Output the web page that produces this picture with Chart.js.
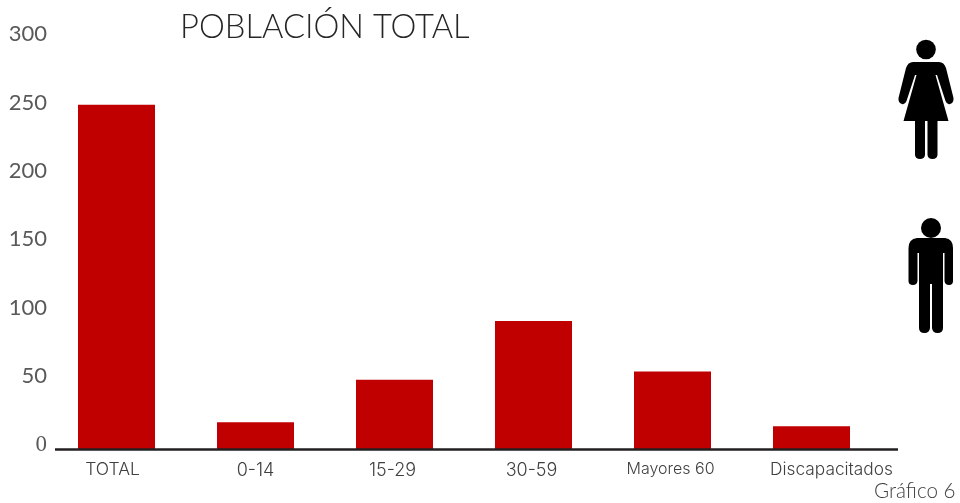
<!DOCTYPE html>
<html>
<head>
<meta charset="utf-8">
<style>
  html, body { margin: 0; padding: 0; background: #fff; }
  #wrap { position: relative; width: 960px; height: 503px; overflow: hidden; }
  #icons { position: absolute; left: 0; top: 0; }
</style>
</head>
<body>
<div id="wrap">
  <canvas id="canvas" width="960" height="503"></canvas>
  <svg id="icons" width="960" height="503" viewBox="0 0 960 503">
    <!-- woman -->
    <circle cx="926" cy="49.5" r="9.8" fill="#000"/>
    <path fill="#000" d="M913 62 H939 Q944 62 946 68 L953.5 98 Q954 103 950 104 Q947 105 945.5 101 L937 75 L935.5 75 L948.5 121 H937.5 V155 Q937 159 932.5 159 Q928 159 927.5 155 V121 H925 V155 Q924.5 159 920 159 Q915.5 159 915 155 V121 H903.5 L916.5 75 L915 75 L906.5 101 Q905 105 902 104 Q898 103 898.5 98 L906 68 Q908 62 913 62 Z"/>
    <!-- man -->
    <circle cx="931" cy="228" r="10" fill="#000"/>
    <path fill="#000" d="M917 238 H945 Q953 239 953 248 V281 Q953 285 949 285 Q945 285 944.5 281 V253 H943 V328 Q943 333 937.5 333 Q932.5 333 932 328 V284 H930 V328 Q929.5 333 924.5 333 Q919 333 919 328 V253 H917.5 V281 Q917 285 913 285 Q908.5 285 908.5 281 V248 Q908.5 239 917 238 Z"/>
  </svg>
</div>
<script src="https://cdn.jsdelivr.net/npm/chart.js@4"></script>
<script>
const categories = ['TOTAL', '0-14', '15-29', '30-59', 'Mayores 60', 'Discapacitados']
const poblacion = [252, 20, 51, 94, 57, 17]
const yTicks = [0, 50, 100, 150, 200, 250, 300]
const titleText = 'POBLACIÓN TOTAL'
const noteText = 'Gráfico 6'

const labelFont = 'Lato'
const xFont = 'Inter'
const xSizes = [17.5, 18, 18, 18, 16, 17.3]
const labelShift = [-4, 0, -2, -2, -2, 20]

// texts and the long base line do not fit the plot box, so they go in a small plugin
const extras = {
  id: 'extras',
  afterLayout(chart) {
    chart.scales.x.getLabelItems().forEach((item, i) => {
      item.options.translation[0] += labelShift[i]
    })
  },
  afterDatasetsDraw(chart) {
    const ctx = chart.ctx
    const base = chart.scales.y.getPixelForValue(0)
    ctx.save()
    ctx.strokeStyle = '#231f20'
    ctx.lineWidth = 2.5
    ctx.beginPath()
    ctx.moveTo(55, base)
    ctx.lineTo(898, base)
    ctx.stroke()

    ctx.textBaseline = 'middle'
    ctx.fillStyle = '#262626'
    ctx.font = '300 32.7px ' + labelFont
    ctx.fillText(titleText, 180, 27)
    ctx.fillStyle = '#404040'
    ctx.font = '300 20.6px ' + labelFont
    ctx.fillText(noteText, 874, 491)
    ctx.restore()
  },
}

const data = {
  labels: categories,
  datasets: [
    {
      label: 'Población',
      backgroundColor: '#c00000',
      data: poblacion,
      categoryPercentage: 1,
      barPercentage: 0.554,
    },
  ],
}

const config = {
  type: 'bar',
  data: data,
  plugins: [extras],
  options: {
    responsive: false,
    animation: false,
    layout: { padding: { top: 39, right: 79, left: 0, bottom: 0 } },
    plugins: { legend: { display: false }, title: { display: false }, tooltip: { enabled: false } },
    scales: {
      x: {
        afterFit: (scale) => { scale.height = 53.5 },
        grid: { display: false, drawTicks: false },
        border: { display: false },
        ticks: {
          maxRotation: 0,
          autoSkip: false,
          padding: 10,
          color: '#404040',
          font: (ctx) => ({ family: xFont, size: xSizes[ctx.index], weight: 300 }),
        },
      },
      y: {
        min: 0,
        max: 300,
        afterFit: (scale) => { scale.width = 47 },
        afterBuildTicks: (scale) => { scale.ticks = yTicks.map((v) => ({ value: v })) },
        grid: { display: false, drawTicks: false },
        border: { display: false },
        ticks: {
          padding: 0,
          labelOffset: -5,
          color: '#595959',
          font: (ctx) => ({
            family: ctx.tick && ctx.tick.value === 0 ? 'Liberation Serif' : 'Lato',
            size: ctx.tick && ctx.tick.value === 0 ? 23 : 22,
          }),
        },
      },
    },
  },
}

const canvas = document.getElementById('canvas')
const chart = new Chart(canvas, config)
</script>
</body>
</html>
